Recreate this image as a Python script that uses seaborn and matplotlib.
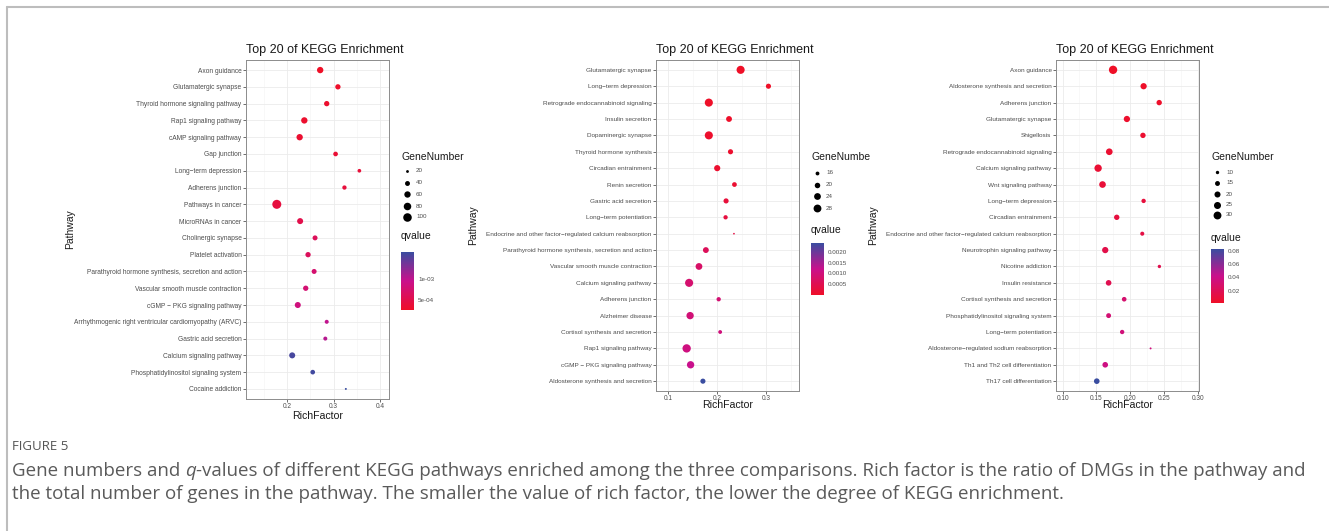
import matplotlib
matplotlib.use("Agg")
import matplotlib.pyplot as plt
import seaborn as sns
import numpy as np
import pandas as pd
from matplotlib.colors import LinearSegmentedColormap, Normalize
from matplotlib.cm import ScalarMappable
from matplotlib.lines import Line2D
from matplotlib.ticker import FixedLocator, FuncFormatter

# ---- data ----
p1_pathways = ["Axon guidance", "Glutamatergic synapse", "Thyroid hormone signaling pathway",
               "Rap1 signaling pathway", "cAMP signaling pathway", "Gap junction",
               "Long\u2212term depression", "Adherens junction", "Pathways in cancer",
               "MicroRNAs in cancer", "Cholinergic synapse", "Platelet activation",
               "Parathyroid hormone synthesis, secretion and action",
               "Vascular smooth muscle contraction", "cGMP \u2212 PKG signaling pathway",
               "Arrhythmogenic right ventricular cardiomyopathy (ARVC)", "Gastric acid secretion",
               "Calcium signaling pathway", "Phosphatidylinositol signaling system", "Cocaine addiction"]
p1_rich = [0.271, 0.309, 0.285, 0.237, 0.227, 0.304, 0.355, 0.323, 0.178, 0.228,
           0.260, 0.245, 0.258, 0.240, 0.223, 0.285, 0.282, 0.211, 0.255, 0.326]
p1_genes = [60, 45, 45, 60, 60, 37, 27, 33, 110, 55, 41, 45, 41, 45, 55, 30, 30, 55, 37, 15]
p1_q = [2.5e-4, 2.8e-4, 3.0e-4, 3.0e-4, 3.2e-4, 3.5e-4, 3.8e-4, 4.0e-4, 4.2e-4, 5.0e-4,
        6.0e-4, 6.2e-4, 7.5e-4, 7.8e-4, 8.5e-4, 1.0e-3, 1.05e-3, 1.6e-3, 1.63e-3, 1.67e-3]
p1_size_ticks = [20, 40, 60, 80, 100]
p1_q_ticks = [5e-4, 1e-3]

p2_pathways = ["Glutamatergic synapse", "Long\u2212term depression", "Retrograde endocannabinoid signaling",
               "Insulin secretion", "Dopaminergic synapse", "Thyroid hormone synthesis",
               "Circadian entrainment", "Renin secretion", "Gastric acid secretion",
               "Long\u2212term potentiation",
               "Endocrine and other factor\u2212regulated calcium reabsorption",
               "Parathyroid hormone synthesis, secretion and action",
               "Vascular smooth muscle contraction", "Calcium signaling pathway", "Adherens junction",
               "Alzheimer disease", "Cortisol synthesis and secretion", "Rap1 signaling pathway",
               "cGMP \u2212 PKG signaling pathway", "Aldosterone synthesis and secretion"]
p2_rich = [0.2475, 0.304, 0.183, 0.224, 0.183, 0.227, 0.200, 0.235, 0.218, 0.217,
           0.234, 0.177, 0.163, 0.143, 0.203, 0.145, 0.206, 0.138, 0.146, 0.171]
p2_genes = [29, 19, 29, 21, 29, 19, 22, 18, 19, 17, 13, 21, 24, 29, 17, 26, 16, 30, 26, 19]
p2_q = [1e-5, 2e-5, 3e-5, 5e-5, 8e-5, 1.0e-4, 1.2e-4, 1.5e-4, 2.5e-4, 3.0e-4,
        3.5e-4, 6.0e-4, 7.5e-4, 8.5e-4, 9.0e-4, 9.5e-4, 1.0e-3, 1.05e-3, 1.2e-3, 2.4e-3]
p2_size_ticks = [16, 20, 24, 28]
p2_q_ticks = [0.0005, 0.0010, 0.0015, 0.0020]

p3_pathways = ["Axon guidance", "Aldosterone synthesis and secretion", "Adherens junction",
               "Glutamatergic synapse", "Shigellosis", "Retrograde endocannabinoid signaling",
               "Calcium signaling pathway", "Wnt signaling pathway", "Long\u2212term depression",
               "Circadian entrainment",
               "Endocrine and other factor\u2212regulated calcium reabsorption",
               "Neurotrophin signaling pathway", "Nicotine addiction", "Insulin resistance",
               "Cortisol synthesis and secretion", "Phosphatidylinositol signaling system",
               "Long\u2212term potentiation", "Aldosterone\u2212regulated sodium reabsorption",
               "Th1 and Th2 cell differentiation", "Th17 cell differentiation"]
p3_rich = [0.1746, 0.2197, 0.2427, 0.195, 0.2187, 0.169, 0.1525, 0.159, 0.2197, 0.180,
           0.2177, 0.163, 0.243, 0.168, 0.191, 0.168, 0.188, 0.230, 0.163, 0.1505]
p3_genes = [33, 21, 17, 21, 17, 23, 27, 23, 13, 17, 12, 21, 10, 18, 14, 15, 13, 7, 18, 18]
p3_q = [0.0013, 0.002, 0.003, 0.004, 0.005, 0.006, 0.007, 0.008, 0.010, 0.011,
        0.013, 0.015, 0.017, 0.018, 0.030, 0.032, 0.034, 0.036, 0.038, 0.0825]
p3_size_ticks = [10, 15, 20, 25, 30]
p3_q_ticks = [0.02, 0.04, 0.06, 0.08]

# ---- figure setup ----
sns.set_theme(style="white")
plt.rcParams["font.family"] = ["Liberation Sans", "DejaVu Sans"]

W, H = 1329, 531
fig = plt.figure(figsize=(W / 100, H / 100), dpi=100)
fig.patch.set_facecolor("white")

cmap = LinearSegmentedColormap.from_list("q", ["#EF0F27", "#C9108C", "#3A4DA0"])
GREY30 = "#4d4d4d"


def rect(x0, y0, x1, y1):
    return [x0 / W, 1 - y1 / H, (x1 - x0) / W, (y1 - y0) / H]


# overlay axes in pixel coordinates for legends, labels and caption
lay = fig.add_axes([0, 0, 1, 1], zorder=5)
lay.set_xlim(0, W)
lay.set_ylim(H, 0)
lay.axis("off")
lay.patch.set_alpha(0)

panels = [
    dict(paths=p1_pathways, rich=p1_rich, genes=p1_genes, q=p1_q, box=(246, 60, 389, 399),
         xlim=(0.112, 0.4185), xticks=[0.2, 0.3, 0.4], xminor=[0.15, 0.25, 0.35], xfmt="{:.1f}",
         ylab_size=4.75, sizes=(2, 42), size_ticks=p1_size_ticks, size_y=[171, 183, 194, 206, 217],
         gtitle="GeneNumber", q_ticks=p1_q_ticks, qfmt=lambda v, p: "{:.0e}".format(v),
         qtitle_y=236, bar=(401, 252, 414, 310), ylab_x=70, xlab_y=416),
    dict(paths=p2_pathways, rich=p2_rich, genes=p2_genes, q=p2_q, box=(656, 60, 799, 391),
         xlim=(0.0758, 0.366), xticks=[0.1, 0.2, 0.3], xminor=[0.15, 0.25, 0.35], xfmt="{:.1f}",
         ylab_size=4.6, sizes=(1.5, 36), size_ticks=p2_size_ticks, size_y=[173, 185, 196, 208],
         gtitle="GeneNumbe", q_ticks=p2_q_ticks, qfmt=lambda v, p: "{:.4f}".format(v),
         qtitle_y=230, bar=(811, 243, 824, 295), ylab_x=473, xlab_y=405),
    dict(paths=p3_pathways, rich=p3_rich, genes=p3_genes, q=p3_q, box=(1056, 60, 1199, 391),
         xlim=(0.0903, 0.3015), xticks=[0.10, 0.15, 0.20, 0.25, 0.30],
         xminor=[0.125, 0.175, 0.225, 0.275], xfmt="{:.2f}",
         ylab_size=4.6, sizes=(2, 36), size_ticks=p3_size_ticks, size_y=[172, 183, 194, 205, 215],
         gtitle="GeneNumber", q_ticks=p3_q_ticks, qfmt=lambda v, p: "{:.2f}".format(v),
         qtitle_y=238, bar=(1211, 249, 1224, 303), ylab_x=873, xlab_y=405),
]

for cfg in panels:
    df = pd.DataFrame({"Pathway": cfg["paths"], "RichFactor": cfg["rich"],
                       "GeneNumber": cfg["genes"], "qvalue": cfg["q"]})
    x0, y0, x1, y1 = cfg["box"]
    ax = fig.add_axes(rect(x0, y0, x1, y1))
    ax.set_facecolor("white")
    ax.set_axisbelow(True)

    qnorm = Normalize(df.qvalue.min(), df.qvalue.max())
    gmin, gmax = df.GeneNumber.min(), df.GeneNumber.max()
    sns.scatterplot(data=df, x="RichFactor", y="Pathway", hue="qvalue", size="GeneNumber",
                    palette=cmap, hue_norm=qnorm, sizes=cfg["sizes"], size_norm=(gmin, gmax),
                    linewidth=0, legend=False, ax=ax, zorder=3)

    n = len(df)
    ax.set_ylim(n - 1 + 0.6, -0.6)
    ax.set_xlim(*cfg["xlim"])
    ax.xaxis.set_major_locator(FixedLocator(cfg["xticks"]))
    ax.xaxis.set_minor_locator(FixedLocator(cfg["xminor"]))
    ax.xaxis.set_major_formatter(FuncFormatter(lambda v, p, f=cfg["xfmt"]: f.format(v)))
    ax.grid(True, which="major", color="#EBEBEB", linewidth=0.6)
    ax.grid(True, which="minor", axis="x", color="#F4F4F4", linewidth=0.4)
    ax.tick_params(axis="both", which="major", length=2, width=0.5, color="#333333",
                   labelsize=4.7, labelcolor=GREY30, pad=1.2, left=True, bottom=True)
    ax.tick_params(axis="y", labelsize=cfg["ylab_size"])
    ax.tick_params(axis="x", which="minor", length=0)
    for s in ax.spines.values():
        s.set_color("#8c8c8c")
        s.set_linewidth(0.7)
    ax.set_xlabel("")
    ax.set_ylabel("")

    # titles and axis labels
    lay.text(x0, 50, "Top 20 of KEGG Enrichment", fontsize=9, ha="left", va="center", color="#1a1a1a")
    lay.text((x0 + x1) / 2, cfg["xlab_y"], "RichFactor", fontsize=7.6, ha="center", va="center", color="#1a1a1a")
    lay.text(cfg["ylab_x"], (y0 + y1) / 2, "Pathway", fontsize=7.5, rotation=90,
             ha="center", va="center", color="#1a1a1a")

    # size legend
    lx = x1 + 12
    lay.text(lx, 157, cfg["gtitle"], fontsize=7.5, ha="left", va="center", color="#1a1a1a")
    lo, hi = cfg["sizes"]
    for g, yy in zip(cfg["size_ticks"], cfg["size_y"]):
        s = lo + (hi - lo) * (g - gmin) / (gmax - gmin)
        lay.scatter([lx + 6], [yy], s=s, color="black", linewidths=0)
        lay.text(lx + 15, yy, str(g), fontsize=4.5, ha="left", va="center", color=GREY30)

    # colour bar
    lay.text(lx, cfg["qtitle_y"], "qvalue", fontsize=7.5, ha="left", va="center", color="#1a1a1a")
    bx0, by0, bx1, by1 = cfg["bar"]
    cax = fig.add_axes(rect(bx0, by0, bx1, by1))
    cb = fig.colorbar(ScalarMappable(norm=qnorm, cmap=cmap), cax=cax)
    cb.outline.set_visible(False)
    cb.set_ticks(cfg["q_ticks"])
    cax.yaxis.set_major_formatter(FuncFormatter(cfg["qfmt"]))
    cax.tick_params(length=2.2, width=0.6, color="white", direction="in", labelsize=4.5,
                    labelcolor=GREY30, pad=3, left=True, right=True, labelleft=False, labelright=True)

# frame lines of the figure
lay.add_line(Line2D([7, W], [7, 7], color="#BDBDBD", linewidth=1.5))
lay.add_line(Line2D([7, 7], [7, H], color="#BDBDBD", linewidth=1.5))

# caption
cap_font = ["Open Sans", "DejaVu Sans"]
cap_size = 13.5
lay.text(12, 447, "FIGURE 5", fontsize=9.5, color="#555555", ha="left", va="center", family=cap_font)
fig.canvas.draw()
r = fig.canvas.get_renderer()
t1 = lay.text(12, 471, "Gene numbers and ", fontsize=cap_size, color="#5a5a5a", ha="left", va="center", family=cap_font)
bb = t1.get_window_extent(r)
t2 = lay.text(bb.x1, 471, "q", fontsize=cap_size, color="#5a5a5a", ha="left", va="center",
              family=cap_font, style="italic")
bb2 = t2.get_window_extent(r)
lay.text(bb2.x1, 471, "-values of different KEGG pathways enriched among the three comparisons. "
         "Rich factor is the ratio of DMGs in the pathway and",
         fontsize=cap_size, color="#5a5a5a", ha="left", va="center", family=cap_font)
lay.text(12, 494, "the total number of genes in the pathway. The smaller the value of rich factor, "
         "the lower the degree of KEGG enrichment.",
         fontsize=cap_size, color="#5a5a5a", ha="left", va="center", family=cap_font)

fig.savefig("out.png", dpi=100, facecolor="white")
